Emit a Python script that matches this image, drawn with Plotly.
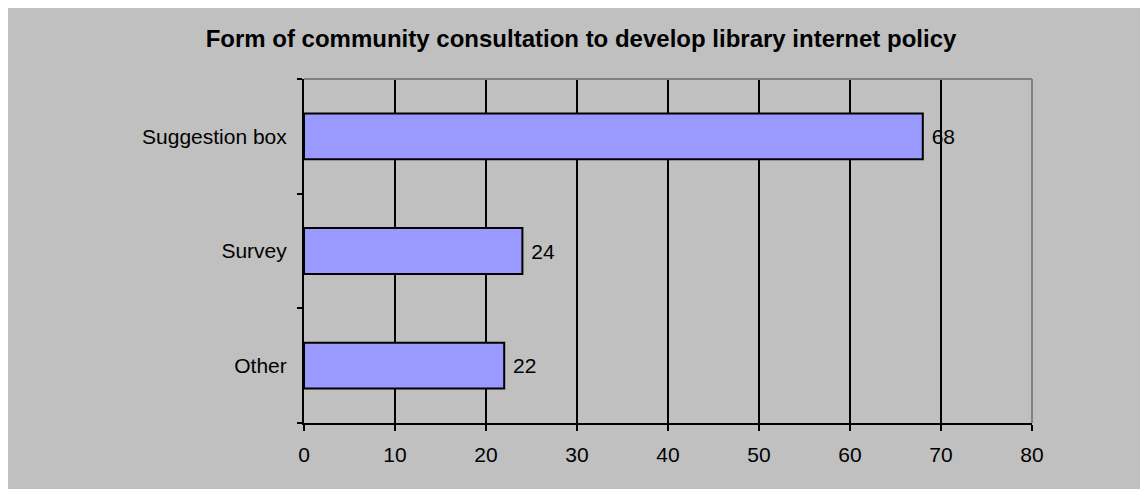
import plotly.graph_objects as go

categories = ["Suggestion box", "Survey", "Other"]
values = [68, 24, 22]
x_ticks = [0, 10, 20, 30, 40, 50, 60, 70, 80]
title_text = "Form of community consultation to develop library internet policy"

W, H = 1140, 481
L, R, T, B = 296, 116, 71, 66

FONT = "Liberation Sans, Arial, sans-serif"

fig = go.Figure(
    go.Bar(
        y=categories,
        x=values,
        orientation="h",
        width=0.4,
        marker=dict(color="#9999ff", line=dict(color="black", width=2)),
        text=values,
        texttemplate=" %{x}",
        textposition="outside",
        textfont=dict(family=FONT, size=21, color="black"),
        cliponaxis=False,
        hoverinfo="skip",
    )
)

shapes = [
    dict(type="line", xref="paper", yref="paper", x0=0, x1=1, y0=1, y1=1,
         line=dict(color="#808080", width=2)),
    dict(type="line", xref="paper", yref="paper", x0=1, x1=1, y0=0, y1=1,
         line=dict(color="#808080", width=2)),
]

fig.update_layout(
    width=W, height=H,
    margin=dict(l=L, r=R, t=T, b=B, pad=0),
    paper_bgcolor="#c0c0c0",
    plot_bgcolor="#c0c0c0",
    font=dict(family=FONT, size=21, color="black"),
    showlegend=False,
    title=dict(
        text="<b>" + title_text + "</b>",
        font=dict(family=FONT, size=24, color="black"),
        x=573 / W, xanchor="center", xref="container",
        y=1 - 31 / H, yanchor="middle", yref="container",
    ),
    shapes=shapes,
    xaxis=dict(
        range=[0, 80],
        tickvals=x_ticks,
        ticktext=[str(v) for v in x_ticks],
        showgrid=True, gridcolor="black", gridwidth=2,
        zeroline=False,
        showline=True, linecolor="black", linewidth=2,
        ticks="outside", ticklen=6, tickwidth=2, tickcolor="black",
        ticklabelstandoff=6,
        tickfont=dict(family=FONT, size=21, color="black"),
        fixedrange=True,
    ),
    yaxis=dict(
        categoryorder="array",
        categoryarray=categories[::-1],
        showgrid=False,
        zeroline=False,
        showline=True, linecolor="black", linewidth=2,
        ticks="outside", ticklen=5, tickwidth=2, tickcolor="black",
        tickson="boundaries",
        ticklabelstandoff=11,
        tickfont=dict(family=FONT, size=21, color="black"),
        fixedrange=True,
    ),
)

fig.write_html("out.html")
